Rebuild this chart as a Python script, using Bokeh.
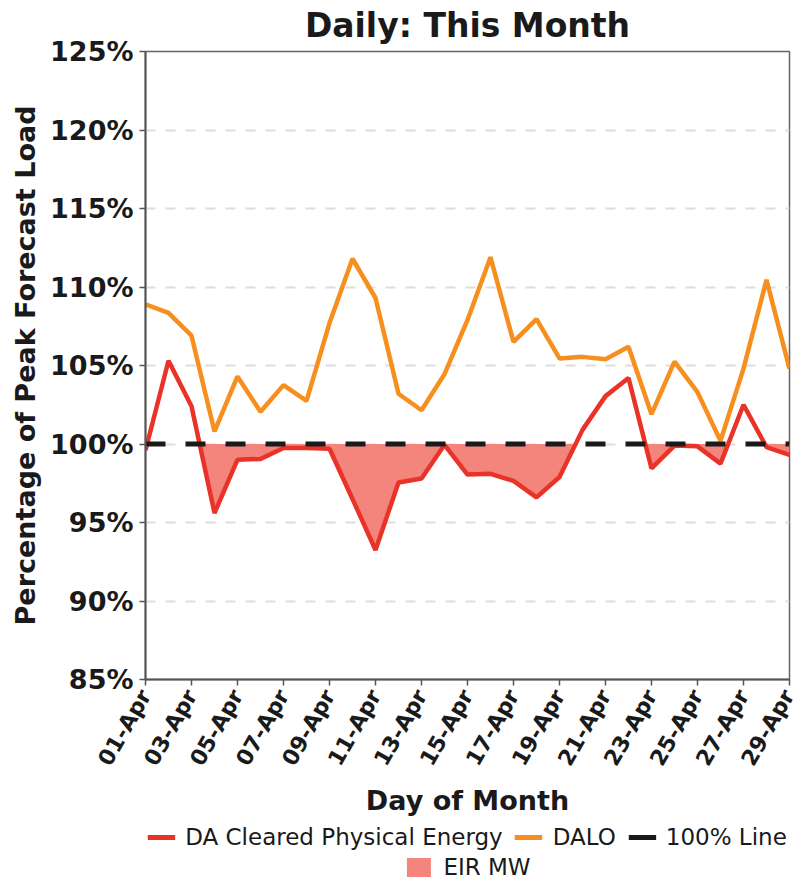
import math
from bokeh.plotting import figure
from bokeh.layouts import column
from bokeh.models import Range1d, FixedTicker, Legend, LegendItem
from bokeh.embed import file_html
from bokeh.resources import INLINE

# ---------------- data ----------------
days = list(range(1, 30))
tick_days = [1, 3, 5, 7, 9, 11, 13, 15, 17, 19, 21, 23, 25, 27, 29]
tick_labels = ["01-Apr", "03-Apr", "05-Apr", "07-Apr", "09-Apr", "11-Apr", "13-Apr",
               "15-Apr", "17-Apr", "19-Apr", "21-Apr", "23-Apr", "25-Apr", "27-Apr", "29-Apr"]
y_ticks = [85, 90, 95, 100, 105, 110, 115, 120, 125]

da_cleared = [99.6, 105.3, 102.4, 95.6, 99.0, 99.05, 99.75, 99.75, 99.7, 96.5,
              93.25, 97.55, 97.8, 99.95, 98.05, 98.1, 97.65, 96.6, 97.9, 100.9,
              103.05, 104.2, 98.45, 99.9, 99.85, 98.75, 102.5, 99.8, 99.3]
dalo = [108.9, 108.35, 106.9, 100.8, 104.3, 102.05, 103.75, 102.75, 107.7, 111.8,
        109.3, 103.2, 102.15, 104.45, 107.9, 111.9, 106.5, 107.95, 105.45, 105.55,
        105.4, 106.2, 101.9, 105.25, 103.3, 100.2, 104.8, 110.45, 104.8]
ref_line = [100] * len(days)

# fill geometry: region where cleared energy is below 100 %
fx, fy = [], []
for i in range(len(days)):
    if i > 0:
        a = da_cleared[i - 1] - 100
        b = da_cleared[i] - 100
        if a * b < 0:
            t = a / (a - b)
            fx.append(days[i - 1] + t * (days[i] - days[i - 1]))
            fy.append(100)
    fx.append(days[i])
    fy.append(min(da_cleared[i], 100))

RED = "#EA3328"
ORANGE = "#F78F1E"
FILL = "#F3857D"
BLACK = "#1a1a1a"
TXT = "#1a1a1a"
FONT = "DejaVu Sans"

p = figure(frame_width=644, frame_height=628, output_backend="svg", toolbar_location=None,
           x_range=Range1d(1, 29), y_range=Range1d(85, 125),
           min_border_left=145, min_border_right=10, min_border_top=50,
           min_border_bottom=142)

p.title.text = "Daily: This Month"
p.title.align = "center"
p.title.vertical_align = "top"
p.title.text_font = FONT
p.title.text_font_size = "33px"
p.title.text_font_style = "bold"
p.title.text_color = TXT

r_fill = p.varea(x=fx, y1=fy, y2=100, fill_color=FILL, fill_alpha=1.0)
r_or = p.line(days, dalo, line_color=ORANGE, line_width=4.5)
r_red = p.line(days, da_cleared, line_color=RED, line_width=4.5)
r_ref = p.line(days, ref_line, line_color=BLACK, line_width=5, line_dash="20 20")

# axes
p.xaxis.ticker = FixedTicker(ticks=tick_days)
p.xaxis.major_label_overrides = {d: l for d, l in zip(tick_days, tick_labels)}
p.xaxis.major_label_orientation = math.pi / 3
p.xaxis.major_label_text_font = FONT
p.xaxis.major_label_text_font_size = "22px"
p.xaxis.major_label_text_font_style = "bold"
p.xaxis.major_label_text_color = TXT
p.xaxis.axis_label = "Day of Month"
p.xaxis.axis_label_standoff = 6

p.yaxis.ticker = FixedTicker(ticks=y_ticks)
p.yaxis.major_label_overrides = {v: f"{v}%" for v in y_ticks}
p.yaxis.major_label_text_font = FONT
p.yaxis.major_label_text_font_size = "27px"
p.yaxis.major_label_text_font_style = "bold"
p.yaxis.major_label_text_color = TXT
p.yaxis.axis_label = "Percentage of Peak Forecast Load"
p.yaxis.axis_label_standoff = 6

for ax in (p.xaxis[0], p.yaxis[0]):
    ax.axis_label_text_font = FONT
    ax.axis_label_text_font_size = "27px"
    ax.axis_label_text_font_style = "bold"
    ax.axis_label_text_color = TXT
    ax.axis_line_color = "#555555"
    ax.axis_line_width = 2
    ax.major_tick_line_color = "#555555"
    ax.major_tick_line_width = 1.5
    ax.major_tick_out = 6
    ax.major_tick_in = 0
    ax.minor_tick_line_color = None
    ax.major_label_standoff = 6

p.xgrid.grid_line_color = None
p.ygrid.grid_line_color = "#dddddd"
p.ygrid.grid_line_width = 2
p.ygrid.grid_line_dash = "10 10"

p.outline_line_color = "#666666"
p.outline_line_width = 1.5
p.background_fill_color = "white"
p.border_fill_color = "white"

# ---------- legend strip below the chart ----------
lg = figure(frame_width=644, frame_height=62, output_backend="svg", toolbar_location=None,
            x_range=Range1d(-3, -2), y_range=Range1d(-3, -2),
            x_axis_type=None, y_axis_type=None,
            min_border_left=145, min_border_right=10, min_border_top=0, min_border_bottom=0)
lg.outline_line_color = None
lg.background_fill_color = "white"
lg.border_fill_color = "white"
l_fill = lg.varea(x=fx, y1=fy, y2=100, fill_color=FILL, fill_alpha=1.0)
l_or = lg.line(days, dalo, line_color=ORANGE, line_width=5)
l_red = lg.line(days, da_cleared, line_color=RED, line_width=5)
l_ref = lg.line(days, ref_line, line_color=BLACK, line_width=5)

leg1 = Legend(items=[LegendItem(label="DA Cleared Physical Energy", renderers=[l_red]),
                     LegendItem(label="DALO", renderers=[l_or]),
                     LegendItem(label="100% Line", renderers=[l_ref])],
              orientation="horizontal", location="top_center")
leg2 = Legend(items=[LegendItem(label="EIR MW", renderers=[l_fill])],
              orientation="horizontal", location="bottom_center")
for L, gw in ((leg1, 28), (leg2, 30)):
    L.label_text_font = FONT
    L.label_text_font_size = "23px"
    L.label_text_color = TXT
    L.border_line_color = None
    L.background_fill_alpha = 0
    L.glyph_width = gw
    L.glyph_height = 24
    L.spacing = 12
    L.padding = 0
    L.margin = 3
    L.label_standoff = 10
lg.add_layout(leg1)
lg.add_layout(leg2)

layout = column(p, lg, spacing=0)
open("out.html", "w").write(file_html(layout, INLINE))
